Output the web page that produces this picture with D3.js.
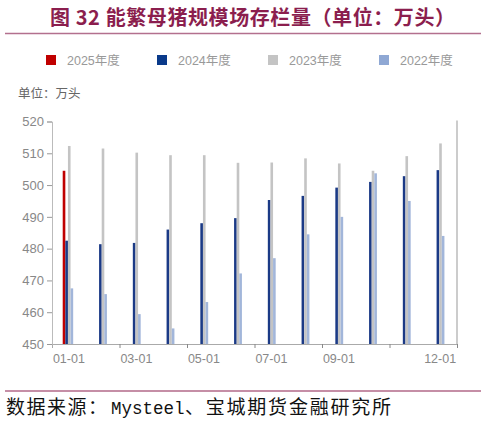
<!DOCTYPE html>
<html>
<head>
<meta charset="utf-8">
<script src="https://cdn.jsdelivr.net/npm/d3@7"></script>
<style>
html,body{margin:0;padding:0;background:#fff;}
svg{display:block;}
</style>
</head>
<body>
<svg id="chart" width="486" height="423"></svg>
<script>
const months = ["01","02","03","04","05","06","07","08","09","10","11","12"];
const seriesNames = ["2025年度","2024年度","2023年度","2022年度"];
const seriesColors = ["#c00000","#1b3a86","#c4c4c4","#a2b6da"];
const legendColors = ["#c00000","#0a3a8a","#c4c4c4","#8fa8d4"];
const v2025 = [504.5,null,null,null,null,null,null,null,null,null,null,null];
const v2024 = [482.5,481.4,481.8,486.0,488.0,489.6,495.3,496.6,499.2,501.0,502.8,504.7];
const v2023 = [512.3,511.5,510.2,509.4,509.4,507.0,507.1,508.4,506.8,504.5,509.1,513.1];
const v2022 = [467.5,465.7,459.4,454.9,463.2,472.2,477.0,484.5,490.0,503.7,495.0,484.0];
const yTicks = [450,460,470,480,490,500,510,520];
const xLabelMonths = ["01","03","05","07","09","12"];
const titleText = "图 32 能繁母猪规模场存栏量（单位：万头）";
const unitText = "单位：万头";

const allSeries = [v2025, v2024, v2023, v2022];

const svg = d3.select("#chart");
const mLeft = 52, mRight = 457, mTop = 121.5, mBottom = 344;

// title
svg.append("text").attr("x", 50).attr("y", 25)
  .attr("font-family", "'Noto Sans CJK SC', sans-serif").attr("font-weight", "bold")
  .attr("font-size", 20).attr("fill", "#8b1e4e")
  .attr("textLength", 405).attr("lengthAdjust", "spacing")
  .text(titleText);
svg.append("line").attr("x1", 5).attr("x2", 481).attr("y1", 33.5).attr("y2", 33.5)
  .attr("stroke", "#b3708e").attr("stroke-width", 1.5);

// legend
const legendX = [46, 157, 268, 379];
const lg = svg.append("g");
seriesNames.forEach((n, i) => {
  lg.append("rect").attr("x", legendX[i]).attr("y", 55).attr("width", 10).attr("height", 10)
    .attr("fill", legendColors[i]);
  lg.append("text").attr("x", legendX[i] + 21).attr("y", 64.5)
    .attr("font-family", "'Liberation Sans','Noto Sans CJK SC',sans-serif").attr("font-size", 12.5)
    .attr("fill", "#999").text(n);
});

// unit
svg.append("text").attr("x", 18).attr("y", 98)
  .attr("font-family", "'Noto Sans CJK SC', sans-serif").attr("font-size", 12.5)
  .attr("fill", "#666").text(unitText);

// scales
const y = d3.scaleLinear().domain([450, 520]).range([mBottom, mTop]);
const x0 = d3.scaleBand().domain(months).range([mLeft, mRight]).paddingInner(0.69).paddingOuter(0.345).align(0.46);
const x1 = d3.scaleBand().domain(seriesNames).range([0, x0.bandwidth()]);
const xCenter = d3.scaleBand().domain(months).range([mLeft, mRight]);
const xLin = d3.scaleLinear().domain([0, 12]).range([mLeft, mRight]);

// bars
seriesNames.forEach((n, si) => {
  const data = months.map((m, i) => ({m, v: allSeries[si][i]})).filter(d => d.v != null);
  svg.append("g").selectAll("rect").data(data).join("rect")
    .attr("x", d => x0(d.m) + x1(n))
    .attr("width", x1.bandwidth())
    .attr("y", d => y(d.v))
    .attr("height", d => y(450) - y(d.v))
    .attr("fill", seriesColors[si]);
});

// y axis
const yAxis = svg.append("g").attr("transform", `translate(${mLeft},0)`)
  .call(d3.axisLeft(y).tickValues(yTicks).tickSize(5).tickPadding(3));
yAxis.select(".domain").attr("stroke", "#bbb");
yAxis.selectAll(".tick line").attr("stroke", "#999");
yAxis.selectAll("text").attr("font-family", "'Liberation Sans',sans-serif").attr("font-size", 13).attr("fill", "#888");

// x axis ticks
const xAxis = svg.append("g").attr("transform", `translate(0,${mBottom})`)
  .call(d3.axisBottom(xLin).tickValues([2,4,6,8,10,12]).tickSize(4).tickFormat(""));
xAxis.select(".domain").attr("stroke", "#aaa");
xAxis.selectAll(".tick line").attr("stroke", "#888");

// x labels
const xLab = svg.append("g").attr("transform", `translate(0,${mBottom})`)
  .call(d3.axisBottom(xCenter).tickValues(xLabelMonths).tickSize(0).tickPadding(10).tickFormat(d => d + "-01"));
xLab.select(".domain").remove();
xLab.selectAll("text").attr("font-family", "'Liberation Sans',sans-serif").attr("font-size", 12.5).attr("fill", "#888");

// right frame line
svg.append("line").attr("x1", xLin(12)).attr("x2", xLin(12)).attr("y1", y(520) - 1).attr("y2", y(450))
  .attr("stroke", "#aaa").attr("stroke-width", 1.2);

// footer
svg.append("line").attr("x1", 5).attr("x2", 481).attr("y1", 391).attr("y2", 391)
  .attr("stroke", "#8b1e4e").attr("stroke-width", 1.2);
const ft = svg.append("g").attr("fill", "#111");
ft.append("text").attr("x", 6).attr("y", 413.5)
  .attr("font-family", "'Noto Sans CJK SC', sans-serif").attr("font-size", 19)
  .attr("textLength", 101).attr("lengthAdjust", "spacing").text("数据来源：");
ft.append("text").attr("x", 111).attr("y", 413.5)
  .attr("font-family", "'Liberation Mono', monospace").attr("font-size", 17.5).text("Mysteel");
ft.append("text").attr("x", 185).attr("y", 413.5)
  .attr("font-family", "'Noto Sans CJK SC', sans-serif").attr("font-size", 19)
  .attr("textLength", 206).attr("lengthAdjust", "spacing").text("、宝城期货金融研究所");
</script>
</body>
</html>
